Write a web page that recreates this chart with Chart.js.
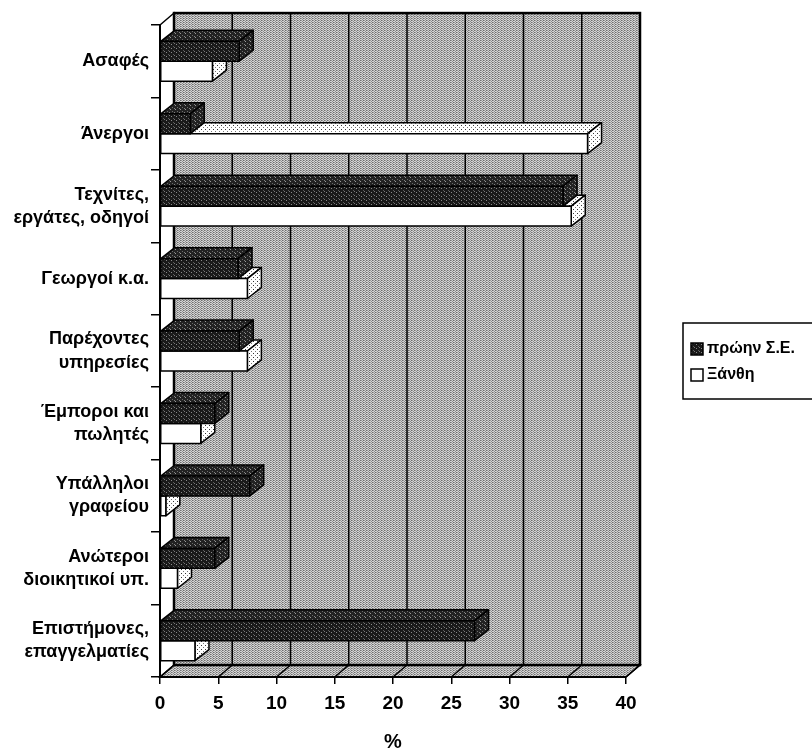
<!DOCTYPE html>
<html>
<head>
<meta charset="utf-8">
<script src="https://cdn.jsdelivr.net/npm/chart.js@4/dist/chart.umd.min.js"></script>
<style>
  html, body { margin: 0; padding: 0; background: #fff; }
  #wrap { position: relative; width: 812px; height: 754px; }
</style>
</head>
<body>
<div id="wrap"><canvas id="chart" width="812" height="754"></canvas></div>
<script>
// categories, top to bottom
const categories = [
    ['Ασαφές'],
    ['Άνεργοι'],
    ['Τεχνίτες,', 'εργάτες, οδηγοί'],
    ['Γεωργοί κ.α.'],
    ['Παρέχοντες', 'υπηρεσίες'],
    ['Έμποροι και', 'πωλητές'],
    ['Υπάλληλοι', 'γραφείου'],
    ['Ανώτεροι', 'διοικητικοί υπ.'],
    ['Επιστήμονες,', 'επαγγελματίες']
];
const seriesNames = ['πρώην Σ.Ε.', 'Ξάνθη'];
const formerSE = [6.8, 2.6, 34.6, 6.7, 6.8, 4.7, 7.7, 4.7, 27.0];
const xanthi = [4.5, 36.7, 35.3, 7.5, 7.5, 3.5, 0.5, 1.5, 3.0];
const xTickValues = [0, 5, 10, 15, 20, 25, 30, 35, 40];
const xTitle = '%';

const FONT = '"Liberation Sans", Arial, sans-serif';

// textures
function makePattern(w, h, base, dots) {
    const c = document.createElement('canvas');
    c.width = w; c.height = h;
    const g = c.getContext('2d');
    g.fillStyle = base;
    g.fillRect(0, 0, w, h);
    dots.forEach(d => { g.fillStyle = d[2]; g.fillRect(d[0], d[1], 1, 1); });
    return g.createPattern(c, 'repeat');
}

function renderCharts() {
    const ctx = document.getElementById('chart').getContext('2d');
    const wallFill = makePattern(3, 2, '#d2d2d2', [[0, 0, '#6e6e6e'], [1, 0, '#9a9a9a'], [2, 1, '#8c8c8c']]);
    const darkFill = makePattern(5, 4, '#1a1a1a', [[1, 0, '#8a8a8a'], [3, 2, '#5a5a5a'], [4, 3, '#777777']]);
    const darkTop = makePattern(5, 4, '#222222', [[0, 1, '#9a9a9a'], [2, 3, '#6a6a6a'], [4, 0, '#808080']]);
    const dotFill = makePattern(4, 4, '#ffffff', [[1, 1, '#333333'], [3, 3, '#777777']]);

    const WALL_DX = 14, WALL_DY = 12;
    const BAR_DX = 14, BAR_DY = 11;

    // back wall, side wall and floor
    const wallPlugin = {
        id: 'wall',
        beforeDraw(chart) {
            const a = chart.chartArea;
            const xs = chart.scales.x;
            const c = chart.ctx;
            c.save();
            // back wall
            c.fillStyle = wallFill;
            c.fillRect(a.left + WALL_DX, a.top - WALL_DY, a.right - a.left, a.bottom - a.top);
            // floor
            c.beginPath();
            c.moveTo(a.left, a.bottom);
            c.lineTo(a.left + WALL_DX, a.bottom - WALL_DY);
            c.lineTo(a.right + WALL_DX, a.bottom - WALL_DY);
            c.lineTo(a.right, a.bottom);
            c.closePath();
            c.fill();
            c.strokeStyle = '#000';
            c.lineWidth = 1.5;
            c.stroke();
            // left wall
            c.beginPath();
            c.moveTo(a.left, a.top);
            c.lineTo(a.left + WALL_DX, a.top - WALL_DY);
            c.lineTo(a.left + WALL_DX, a.bottom - WALL_DY);
            c.lineTo(a.left, a.bottom);
            c.closePath();
            c.fillStyle = '#fff';
            c.fill();
            c.stroke();
            // grid lines on back wall and floor
            c.lineWidth = 1.5;
            xTickValues.forEach(v => {
                const px = xs.getPixelForValue(v);
                c.beginPath();
                c.moveTo(px + WALL_DX, a.top - WALL_DY);
                c.lineTo(px + WALL_DX, a.bottom - WALL_DY);
                c.lineTo(px, a.bottom);
                c.stroke();
            });
            c.lineWidth = 2.5;
            c.strokeRect(a.left + WALL_DX, a.top - WALL_DY, a.right - a.left, a.bottom - a.top);
            c.restore();
        }
    };

    // 3D boxes for the bars (white drawn first, dark one sits in front of it)
    const boxPlugin = {
        id: 'boxes',
        afterDatasetsDraw(chart) {
            const c = chart.ctx;
            c.save();
            c.strokeStyle = '#000';
            c.lineWidth = 1.5;
            c.lineJoin = 'round';
            for (let i = 0; i < categories.length; i++) {
                [1, 0].forEach(d => {
                    const el = chart.getDatasetMeta(d).data[i];
                    const x0 = el.base, x1 = el.x;
                    const yt = el.y - el.height / 2, yb = el.y + el.height / 2;
                    const front = d === 0 ? darkFill : '#ffffff';
                    const top = d === 0 ? darkTop : dotFill;
                    // top face
                    c.beginPath();
                    c.moveTo(x0, yt);
                    c.lineTo(x0 + BAR_DX, yt - BAR_DY);
                    c.lineTo(x1 + BAR_DX, yt - BAR_DY);
                    c.lineTo(x1, yt);
                    c.closePath();
                    c.fillStyle = top;
                    c.fill();
                    c.stroke();
                    // side face
                    c.beginPath();
                    c.moveTo(x1, yt);
                    c.lineTo(x1 + BAR_DX, yt - BAR_DY);
                    c.lineTo(x1 + BAR_DX, yb - BAR_DY);
                    c.lineTo(x1, yb);
                    c.closePath();
                    c.fill();
                    c.stroke();
                    // front face
                    c.fillStyle = front;
                    c.fillRect(x0, yt, x1 - x0, yb - yt);
                    c.strokeRect(x0, yt, x1 - x0, yb - yt);
                });
            }
            c.restore();
        }
    };

    // boxed legend on the right
    const legendPlugin = {
        id: 'boxLegend',
        afterDraw(chart) {
            const c = chart.ctx;
            c.save();
            c.lineWidth = 1.5;
            c.strokeStyle = '#000';
            c.strokeRect(683, 323, 140, 76);
            c.font = 'bold 16px ' + FONT;
            c.textBaseline = 'middle';
            chart.data.datasets.forEach((ds, k) => {
                const y = 349 + k * 26;
                c.fillStyle = k === 0 ? darkFill : '#fff';
                c.fillRect(691, y - 6, 12, 12);
                c.lineWidth = 1.5;
                c.strokeRect(691, y - 6, 12, 12);
                c.fillStyle = '#000';
                c.fillText(ds.label, 707, y);
            });
            c.restore();
        }
    };

    new Chart(ctx, {
        type: 'bar',
        data: {
            labels: categories,
            datasets: [
                {
                    label: seriesNames[0],
                    data: formerSE,
                    backgroundColor: darkFill,
                    borderColor: '#000',
                    borderWidth: 1
                },
                {
                    label: seriesNames[1],
                    data: xanthi,
                    backgroundColor: '#fff',
                    borderColor: '#000',
                    borderWidth: 1
                }
            ]
        },
        options: {
            indexAxis: 'y',
            responsive: false,
            animation: false,
            categoryPercentage: 0.55,
            barPercentage: 1.0,
            layout: { padding: { top: 21, right: 186, bottom: 0, left: 0 } },
            plugins: {
                legend: { display: false },
                tooltip: { enabled: false }
            },
            scales: {
                x: {
                    min: xTickValues[0],
                    max: xTickValues[xTickValues.length - 1],
                    afterFit(scale) { scale.height = 77; },
                    ticks: {
                        stepSize: 5,
                        color: '#000',
                        padding: 8,
                        font: { family: FONT, size: 19, weight: 'bold' }
                    },
                    grid: {
                        drawOnChartArea: false,
                        drawTicks: true,
                        tickLength: 7,
                        color: '#000',
                        lineWidth: 1.5
                    },
                    border: { display: true, color: '#000', width: 2 },
                    title: {
                        display: true,
                        text: xTitle,
                        color: '#000',
                        padding: { top: 16, bottom: 0 },
                        font: { family: FONT, size: 20, weight: 'bold' }
                    }
                },
                y: {
                    afterFit(scale) { scale.width = 160; },
                    ticks: {
                        color: '#000',
                        padding: 2,
                        font: { family: FONT, size: 18, weight: 'bold', lineHeight: 1.28 }
                    },
                    grid: {
                        offset: true,
                        drawOnChartArea: false,
                        drawTicks: true,
                        tickLength: 9,
                        color: '#000',
                        lineWidth: 1.5
                    },
                    border: { display: true, color: '#000', width: 2 }
                }
            }
        },
        plugins: [wallPlugin, boxPlugin, legendPlugin]
    });
}

renderCharts();
</script>
</body>
</html>
